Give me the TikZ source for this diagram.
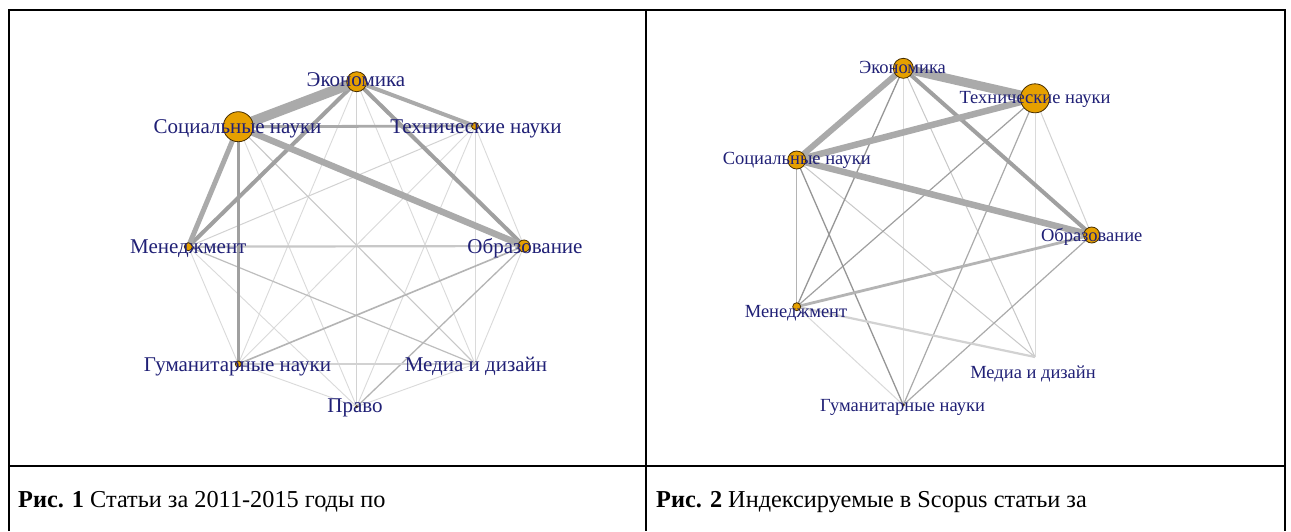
\documentclass[tikz,border=0pt]{standalone}
\usepackage{fontspec}
\setmainfont{Liberation Serif}
\definecolor{lblblue}{RGB}{32,32,118}
\definecolor{vfill}{RGB}{230,160,0}
\definecolor{vborder}{RGB}{70,45,0}
\definecolor{g150}{RGB}{150,150,150}
\definecolor{g160}{RGB}{160,160,160}
\definecolor{g170}{RGB}{170,170,170}
\definecolor{g180}{RGB}{180,180,180}
\definecolor{g190}{RGB}{190,190,190}
\definecolor{g200}{RGB}{200,200,200}
\definecolor{g210}{RGB}{210,210,210}
\definecolor{g218}{RGB}{218,218,218}
\tikzset{
  ed/.style 2 args={draw=#2, line width=#1pt, line cap=butt},
  vtx/.style={circle, draw=vborder, fill=vfill, line width=0.8pt, inner sep=0pt, minimum size=#1pt},
  lblL/.style={text=lblblue, inner sep=0pt, anchor=base, font=\fontsize{21}{23}\selectfont},
  lblR/.style={text=lblblue, inner sep=0pt, anchor=base, font=\fontsize{18.5}{20}\selectfont},
  capt/.style={inner sep=0pt, anchor=base west, font=\fontsize{24.3}{28}\selectfont},
  frame/.style={line width=2pt, draw=black}
}
\begin{document}
\begin{tikzpicture}[x=1pt,y=-1pt]
\useasboundingbox (0,0) rectangle (1291,531);
\fill[white] (0,0) rectangle (1291,531);
% ---------- table frame
\coordinate (tl) at (9,10);
\coordinate (tm) at (646,10);
\coordinate (tr) at (1285,10);
\coordinate (bl) at (9,531);
\coordinate (bm) at (646,531);
\coordinate (br) at (1285,531);
\coordinate (hl) at (9,465.5);
\coordinate (hr) at (1285,465.5);
\draw[frame] (bl) -- (tl) -- (tr) -- (br);
\draw[frame] (tm) -- (bm);
\draw[frame] (hl) -- (hr);
% ---------- left graph coordinates
\coordinate (lE) at (356.7,81.7);
\coordinate (lS) at (238.3,126.7);
\coordinate (lT) at (475,126);
\coordinate (lM) at (188.3,246.7);
\coordinate (lO) at (524,246);
\coordinate (lG) at (238.3,364);
\coordinate (lD) at (475,364);
\coordinate (lP) at (356.7,406.7);
% light edges
\foreach \a/\b in {lE/lG,lE/lD,lS/lP,lT/lO,lT/lG,lT/lD,lT/lP,lM/lG,lM/lP,lO/lD,lG/lP,lD/lP}{
  \draw[ed={0.9}{g218}] (\a) -- (\b);
}
\draw[ed={1.0}{g210}] (lT) -- (lM);
\draw[ed={1.1}{g200}] (lS) -- (lD);
\draw[ed={1.2}{g190}] (lM) -- (lD);
\draw[ed={1.0}{g210}] (lE) -- (lP);
\draw[ed={1.3}{g180}] (lO) -- (lP);
\draw[ed={1.6}{g210}] (lG) -- (lD);
\draw[ed={1.6}{g180}] (lG) -- (lO);
\draw[ed={2.2}{g200}] (lM) -- (lO);
\draw[ed={2.8}{g160}] (lS) -- (lG);
\draw[ed={2.8}{g170}] (lS) -- (lT);
\draw[ed={4}{g170}] (lE) -- (lT);
\draw[ed={4}{g160}] (lE) -- (lO);
\draw[ed={4}{g160}] (lE) -- (lM);
\draw[ed={5}{g170}] (lS) -- (lM);
\draw[ed={6.5}{g170}] (lS) -- (lO);
\draw[ed={10}{g170}] (lE) -- (lS);
% vertices
\node[vtx=20] (lEv) at (lE) {};
\node[vtx=30] (lSv) at (lS) {};
\node[vtx=7] (lTv) at (lT) {};
\node[vtx=8] (lMv) at (lM) {};
\node[vtx=12] (lOv) at (lO) {};
\node[vtx=6] (lGv) at (lG) {};
\node[vtx=2] (lPv) at (lP) {};
% labels
\node[lblL] (lEl) at (356,86.5) {Экономика};
\node[lblL] (lSl) at (237.5,133.5) {Социальные науки};
\node[lblL] (lTl) at (476,133.5) {Технические науки};
\node[lblL] (lMl) at (188.3,253.5) {Менеджмент};
\node[lblL] (lOl) at (525,253) {Образование};
\node[lblL] (lGl) at (237.5,371.5) {Гуманитарные науки};
\node[lblL] (lDl) at (476,371.5) {Медиа и дизайн};
\node[lblL] (lPl) at (355,412) {Право};
% ---------- right graph coordinates
\coordinate (rE) at (903.3,68.3);
\coordinate (rT) at (1035,98.3);
\coordinate (rS) at (796.7,160);
\coordinate (rO) at (1091.7,235);
\coordinate (rM) at (796.7,306.7);
\coordinate (rD) at (1035,357);
\coordinate (rG) at (903.3,405);
\draw[ed={1.0}{g218}] (rE) -- (rG);
\draw[ed={1.0}{g200}] (rE) -- (rD);
\draw[ed={1.0}{g218}] (rT) -- (rD);
\draw[ed={1.0}{g210}] (rT) -- (rO);
\draw[ed={1.0}{g200}] (rS) -- (rD);
\draw[ed={1.0}{g218}] (rM) -- (rG);
\draw[ed={1.1}{g180}] (rS) -- (rM);
\draw[ed={1.2}{g170}] (rO) -- (rG);
\draw[ed={1.2}{g170}] (rT) -- (rG);
\draw[ed={1.2}{g160}] (rT) -- (rM);
\draw[ed={1.3}{g150}] (rS) -- (rG);
\draw[ed={1.3}{g150}] (rE) -- (rM);
\draw[ed={2.2}{g210}] (rM) -- (rD);
\draw[ed={2.8}{g180}] (rO) -- (rM);
\draw[ed={4}{g160}] (rE) -- (rO);
\draw[ed={6.5}{g170}] (rS) -- (rO);
\draw[ed={6.5}{g170}] (rS) -- (rT);
\draw[ed={6}{g170}] (rE) -- (rS);
\draw[ed={9}{g170}] (rE) -- (rT);
% vertices
\node[vtx=20] (rEv) at (rE) {};
\node[vtx=29] (rTv) at (rT) {};
\node[vtx=18] (rSv) at (rS) {};
\node[vtx=16] (rOv) at (rO) {};
\node[vtx=8] (rMv) at (rM) {};
\node[vtx=2] (rGv) at (rG) {};
% labels
\node[lblR] (rEl) at (902.5,73) {Экономика};
\node[lblR] (rTl) at (1035,103) {Технические науки};
\node[lblR] (rSl) at (796.7,164.5) {Социальные науки};
\node[lblR] (rOl) at (1091.7,241) {Образование};
\node[lblR] (rMl) at (796,317.5) {Менеджмент};
\node[lblR] (rDl) at (1033,378) {Медиа и дизайн};
\node[lblR] (rGl) at (902.5,411) {Гуманитарные науки};
% ---------- captions
\node[capt] (cap1) at (18,507) {\textbf{Рис. 1} Статьи за 2011-2015 годы по};
\node[capt] (cap2) at (656,507) {\textbf{Рис. 2} Индексируемые в Scopus статьи за};
\end{tikzpicture}
\end{document}
